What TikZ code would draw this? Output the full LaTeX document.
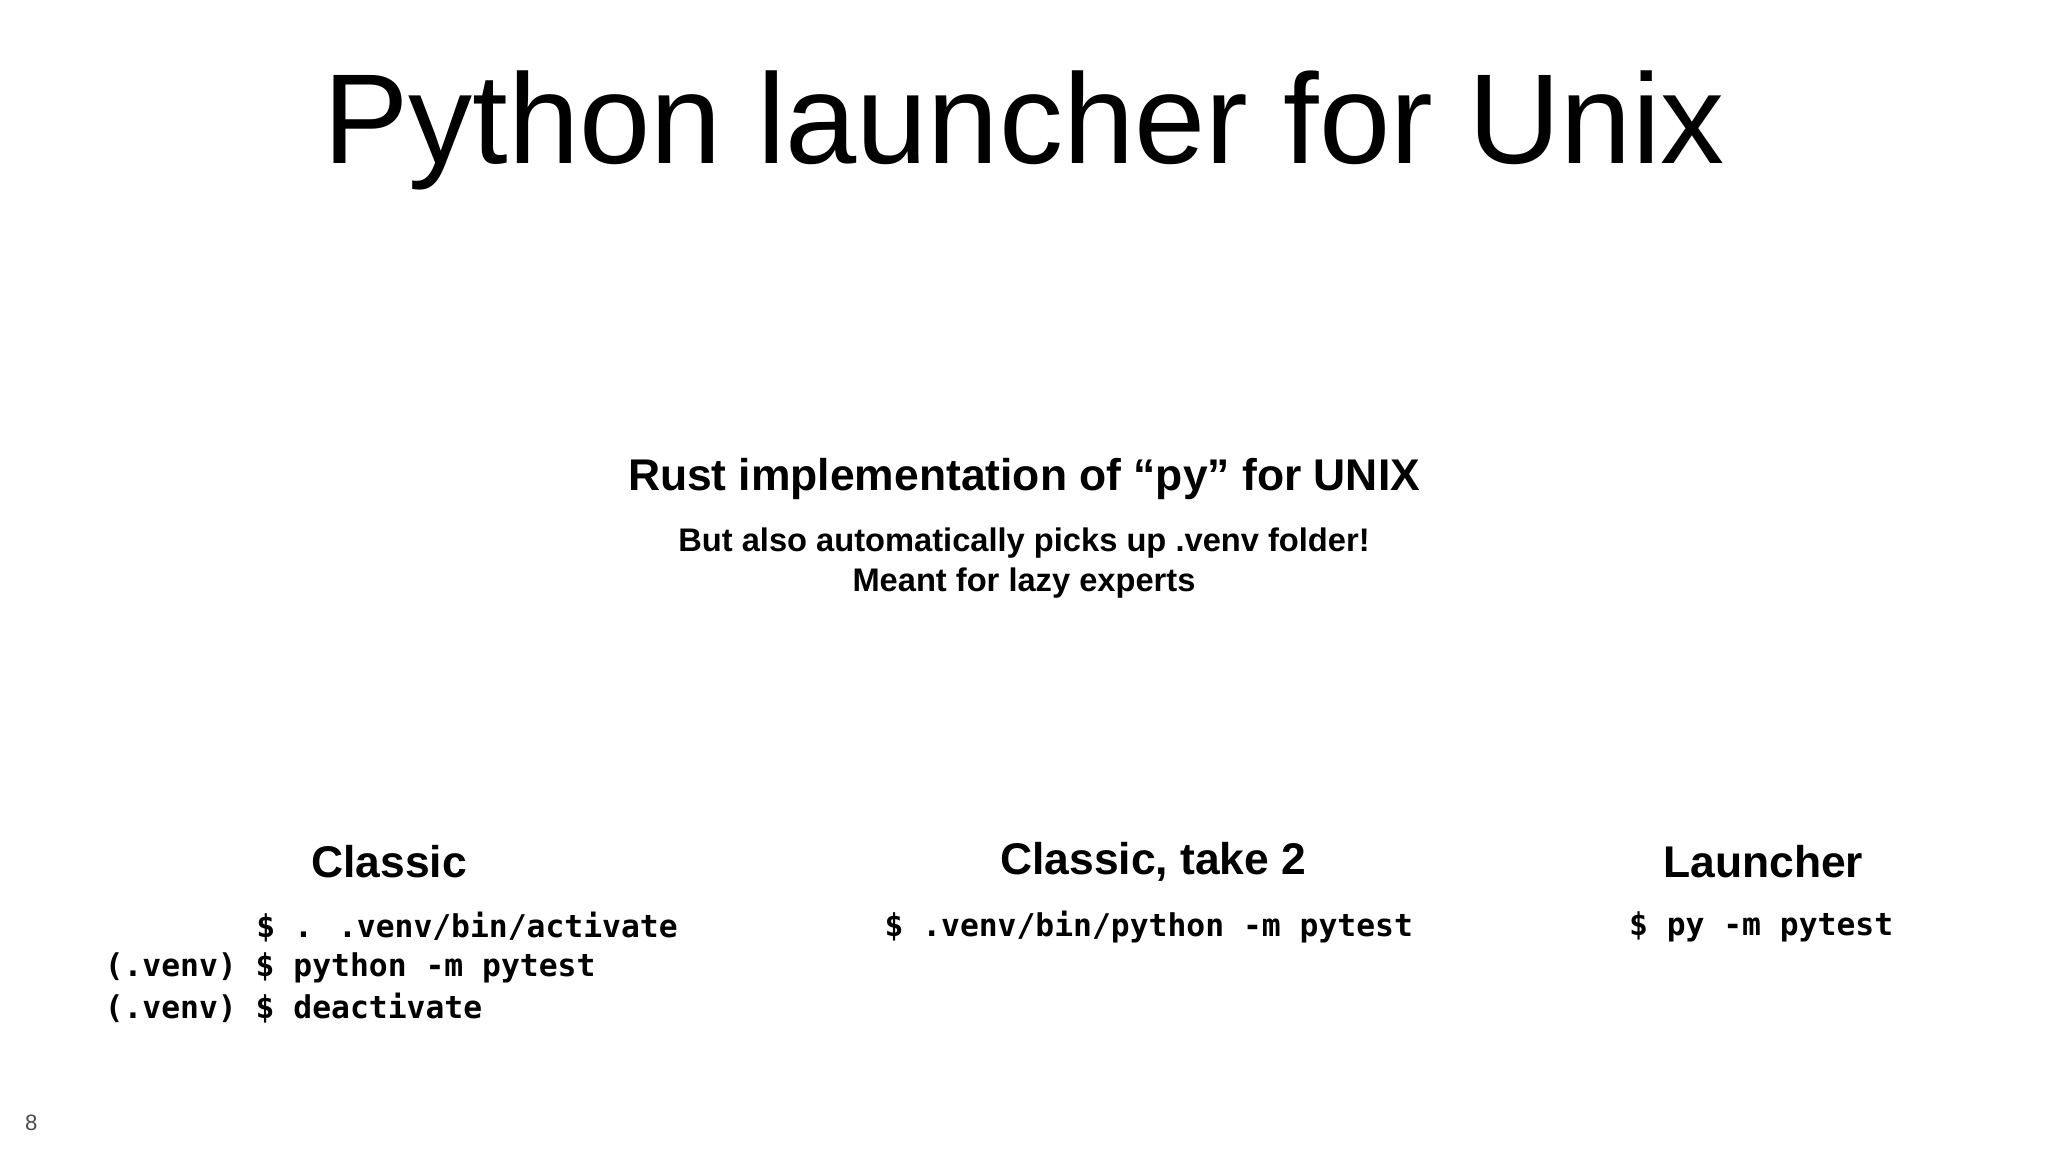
\documentclass[tikz,border=0pt]{standalone}
\usepackage{fontspec}
\setmainfont{Liberation Sans}
\newfontfamily\codefont{DejaVu Sans Mono}
\begin{document}
\begin{tikzpicture}[x=1pt,y=1pt,
  title/.style={font=\fontsize{98}{100}\selectfont, inner sep=0},
  head/.style={font=\bfseries\fontsize{34}{36}\selectfont, inner sep=0},
  sub/.style={font=\bfseries\fontsize{25}{31}\selectfont, inner sep=0, align=center},
  code/.style={font=\codefont\bfseries\fontsize{24}{26}\selectfont, inner sep=0, anchor=west}]
\useasboundingbox (0,0) rectangle (1568,882);
\node[title] (t) at (784,782) {Python launcher for Unix};
\node[head] (rust) at (784,515) {Rust implementation of “py” for UNIX};
\node[sub] (but) at (784,451) {But also automatically picks up .venv folder!\\Meant for lazy experts};
\node[head] (h1) at (298,222) {Classic};
\node[head] (h2) at (883,222) {Classic, take 2};
\node[head] (h3) at (1350,222) {Launcher};
\node[code] (c1) at (196,172) {\$ . .venv/bin/activate};
\node[code] (c2) at (80,141) {(.venv) \$ python -m pytest};
\node[code] (c3) at (80,110) {(.venv) \$ deactivate};
\node[code] (c4) at (677,172) {\$ .venv/bin/python -m pytest};
\node[code] (c5) at (1247,172) {\$ py -m pytest};
\node[font=\fontsize{17}{18}\selectfont, text=black!70, inner sep=0] (pg) at (24,22) {8};
\end{tikzpicture}
\end{document}
